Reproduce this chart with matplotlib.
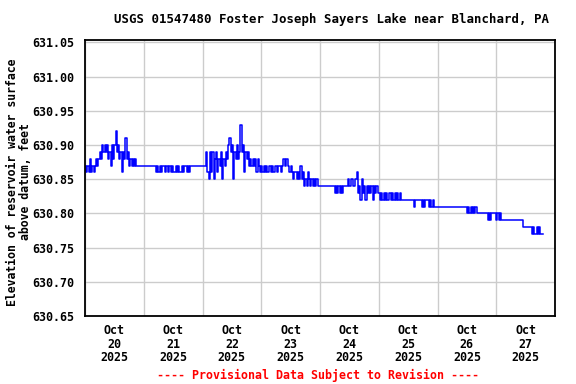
import datetime as dt
import matplotlib
matplotlib.use("Agg")
import matplotlib.pyplot as plt
import matplotlib.dates as mdates

# Gage height readings, every 30 minutes, in hundredths of a foot above 630.00 ft
oct20 = [87, 86, 87, 86, 88, 86, 87, 86, 87, 88, 87, 88, 89, 88, 90, 89,
         90, 89, 90, 88, 89, 87, 90, 88, 90, 92, 89, 90, 88, 89, 86, 89,
         88, 91, 88, 89, 87, 88, 87, 88, 87, 88, 87, 87, 87, 87, 87, 87]
oct21 = [87, 87, 87, 87, 87, 87, 87, 87, 87, 87, 86, 87, 86, 87, 86, 87,
         87, 86, 87, 87, 86, 87, 86, 87, 86, 86, 87, 86, 87, 86, 86, 87,
         86, 87, 87, 86, 87, 86, 87, 87, 87, 87, 87, 87, 87, 87, 87, 87]
oct22 = [87, 87, 87, 89, 86, 85, 89, 86, 89, 85, 88, 89, 86, 88, 87, 89,
         85, 88, 87, 89, 88, 90, 91, 89, 90, 85, 89, 88, 90, 88, 89, 93,
         89, 90, 86, 89, 88, 89, 87, 88, 87, 88, 87, 88, 86, 88, 87, 86]
oct23 = [87, 86, 87, 86, 87, 86, 87, 87, 86, 87, 86, 87, 87, 86, 87, 87,
         86, 87, 88, 87, 88, 88, 87, 86, 87, 86, 85, 86, 86, 85, 86, 85,
         87, 85, 86, 84, 85, 84, 86, 85, 84, 85, 84, 85, 84, 85, 84, 84]
oct24 = [84, 84, 84, 84, 84, 84, 84, 84, 84, 84, 84, 84, 83, 84, 83, 84,
         83, 84, 83, 84, 84, 84, 84, 85, 84, 85, 85, 84, 84, 85, 86, 83,
         84, 82, 85, 83, 84, 82, 84, 83, 84, 83, 84, 82, 84, 83, 84, 83]
oct25 = [83, 82, 83, 82, 83, 82, 83, 82, 83, 83, 82, 83, 82, 83, 82, 83,
         82, 83, 82, 82, 82, 82, 82, 82, 82, 82, 82, 82, 82, 81, 82, 82,
         82, 82, 82, 81, 82, 81, 82, 82, 82, 81, 82, 81, 82, 81, 81, 81]
oct26 = [81, 81, 81, 81, 81, 81, 81, 81, 81, 81, 81, 81, 81, 81, 81, 81,
         81, 81, 81, 81, 81, 81, 81, 81, 80, 81, 80, 81, 80, 81, 80, 81,
         80, 80, 80, 80, 80, 80, 80, 80, 80, 79, 80, 79, 80, 80, 80, 80]
oct27 = [79, 80, 79, 80, 79, 79, 79, 79, 79, 79, 79, 79, 79, 79, 79, 79,
         79, 79, 79, 79, 79, 79, 78, 78, 78, 78, 78, 78, 78, 77, 78, 77,
         77, 78, 77, 78, 77, 77, 77]

days = [oct20, oct21, oct22, oct23, oct24, oct25, oct26, oct27]
start = dt.datetime(2025, 10, 20)
step = dt.timedelta(minutes=30)

times, elev = [], []
k = 0
for d in days:
    for v in d:
        times.append(start + k * step)
        elev.append(630.0 + v / 100.0)
        k += 1

ytick_vals = [630.65, 630.70, 630.75, 630.80, 630.85, 630.90, 630.95, 631.00, 631.05]
title = "USGS 01547480 Foster Joseph Sayers Lake near Blanchard, PA"
ylabel = "Elevation of reservoir water surface\nabove datum, feet"
footer = "---- Provisional Data Subject to Revision ----"

plt.rcParams['font.family'] = ['DejaVu Sans Mono']
plt.rcParams['font.weight'] = 'bold'

fig = plt.figure(figsize=(5.76, 3.84), dpi=100)
ax = fig.add_axes([85/576, 1 - 316/384, 470/576, (316 - 39.7)/384])

ax.step(times, elev, where='post', color='#0000FF', lw=1.1)

ax.set_xlim(start, start + dt.timedelta(days=8))
ax.set_ylim(630.65, 631.054)

ax.set_yticks(ytick_vals)
ax.set_yticklabels([f"{v:.2f}" for v in ytick_vals], fontsize=8.4, fontweight='bold')

ax.xaxis.set_major_locator(mdates.DayLocator())
ax.xaxis.set_major_formatter(matplotlib.ticker.NullFormatter())
ax.xaxis.set_minor_locator(mdates.HourLocator(byhour=[12]))
ax.xaxis.set_minor_formatter(mdates.DateFormatter("%b\n%d\n%Y"))
ax.tick_params(axis='x', which='both', length=0)
ax.tick_params(axis='x', which='minor', pad=6, labelsize=8.4)
for lab in ax.xaxis.get_minorticklabels():
    lab.set_fontweight('bold')
    lab.set_linespacing(1.05)
ax.tick_params(axis='y', length=0, pad=8)

ax.grid(True, which='major', color='#cccccc', lw=1.0)
ax.set_axisbelow(True)
for s in ax.spines.values():
    s.set_linewidth(1.3)
    s.set_color('black')

fig.text(332/576, 1 - 19/384, title, ha='center', va='center', fontsize=8.9, fontweight='bold')
fig.text(19/576, 1 - 182/384, ylabel, ha='center', va='center', rotation=90,
         fontsize=8.3, fontweight='bold', linespacing=1.05)
fig.text(318/576, 1 - 375/384, footer, ha='center', va='center', fontsize=8.4,
         fontweight='bold', color='#FF0000')

fig.savefig("out.png", dpi=100)
